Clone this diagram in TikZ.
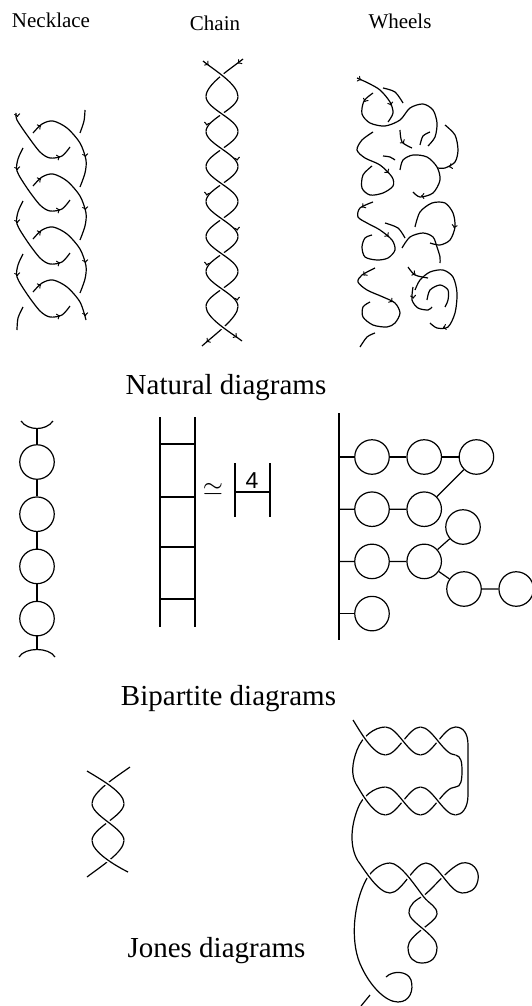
\documentclass[tikz,border=0pt]{standalone}
\usepackage{fontspec}
\setmainfont{Liberation Serif}
\newfontfamily\sansdigits{Liberation Sans}
\usetikzlibrary{positioning, decorations.markings}

\begin{document}
\begin{tikzpicture}[
    x=1pt, y=-1pt, line width=1.2pt,
    node distance=16.5pt,
    head/.style={anchor=base, font=\fontsize{21}{25}\selectfont},
    caption/.style={anchor=base, font=\fontsize{29}{35}\selectfont},
    bead/.style={circle, draw, minimum size=34.5pt, inner sep=0pt},
    over/.style={preaction={draw=white, line width=4.5pt}},
    tick/.style={postaction={decorate, decoration={markings, mark=at position 0.5 with {\arrow{>}}}}}
    ]
    \useasboundingbox (0,0) rectangle (531,1006);

    % Column titles
    \node (necklace) [head] at (51,28) {Necklace};
    \node (chain) [head] at (215,31) {Chain};
    \node (wheels) [head] at (400,29) {Wheels};

    % Natural necklace
    \draw plot[smooth] coordinates {(85,110) (84,121) (80,133)};
    \draw plot[smooth] coordinates {(16,113) (17,120) (27,135) (40,152) (50,158) (62,156) (70,147)};
    \foreach \i [evaluate=\i as \dy using 53*\i] in {1,2,3}
        \draw plot[smooth] coordinates {(23,95+\dy) (18,106+\dy) (17,118+\dy) (27,135+\dy) (40,152+\dy) (50,158+\dy) (62,156+\dy) (70,147+\dy)};
    \foreach \i [evaluate=\i as \dy using 53*\i] in {0,1,2}
        \draw plot[smooth] coordinates {(33,133+\dy) (42,124+\dy) (53,121+\dy) (67,128+\dy) (80,143+\dy) (86,160+\dy) (85,173+\dy) (80,187+\dy)};
    \draw plot[smooth] coordinates {(33,292) (42,283) (53,280) (67,287) (80,302) (86,320)};
    \draw plot[smooth] coordinates {(23,307) (18,318) (17,330)};
    \foreach \i [evaluate=\i as \dy using 53*\i] in {0,1,2,3} {
        \path[tick] (17,113+\dy) -- (18,121+\dy);
        \path[tick] (56,158+\dy) -- (64,155+\dy);
        \path[tick] (37,128+\dy) -- (45,123+\dy);
        \path[tick] (85,153+\dy) -- (86,161+\dy);
    }

    % Natural chain
    \draw (243,59) .. controls (232,68) and (206,84) .. (206,96.5);
    \foreach \k [evaluate=\k as \yc using 79+35*\k] in {1,...,6}
        \draw (238,\yc-17.5) .. controls (238,\yc-5) and (206,\yc+5) .. (206,\yc+17.5);
    \draw (238,306.5) .. controls (238,318) and (214,335) .. (202,346);
    \draw[over] (203,61) .. controls (214,70) and (238,84) .. (238,96.5);
    \foreach \k [evaluate=\k as \yc using 79+35*\k] in {1,...,6}
        \draw[over] (206,\yc-17.5) .. controls (206,\yc-5) and (238,\yc+5) .. (238,\yc+17.5);
    \draw[over] (206,306.5) .. controls (206,318) and (230,332) .. (242,341);
    \path[tick] (205,62) -- (212,68);
    \path[tick] (241,61) -- (235,66);
    \path[tick] (234,335) -- (240,339);
    \path[tick] (209,340) -- (204,344);
    \foreach \k [evaluate=\k as \yc using 79+35*\k] in {1,3,5} {
        \path[tick] (207,\yc+9) -- (206,\yc+14);
        \path[tick] (237,\yc+44) -- (238,\yc+49);
    }

    % Natural wheels
    \draw plot[smooth] coordinates {(357,78) (368,83) (380,90) (390,102) (393,113) (388,122)};
    \draw plot[smooth] coordinates {(373,93) (364,101) (362,114) (370,123) (385,126) (400,120) (410,108) (423,104) (433,110) (437,123) (435,137) (428,146)};
    \draw plot[smooth] coordinates {(383,88) (395,92) (403,103)};
    \draw plot[smooth] coordinates {(400,130) (402,142) (412,148)};
    \draw plot[smooth] coordinates {(373,132) (362,140) (357,150) (365,158) (380,165) (392,177) (393,186) (383,193) (370,195) (362,188) (363,175) (372,166)};
    \draw plot[smooth] coordinates {(383,156) (390,157) (395,160)};
    \draw plot[smooth] coordinates {(400,170) (403,160) (413,155) (427,157) (437,167) (440,180) (433,193) (420,197) (413,192)};
    \draw plot[smooth] coordinates {(445,125) (455,135) (458,150) (455,162) (445,168) (438,168)};
    \draw plot[smooth] coordinates {(420,145) (423,136) (430,132)};
    \draw plot[smooth] coordinates {(373,202) (360,208) (358,217) (367,223) (380,230) (392,240) (395,250) (388,258) (377,260) (365,257) (362,247) (365,238) (372,235)};
    \draw plot[smooth] coordinates {(385,223) (398,228) (405,238)};
    \draw plot[smooth] coordinates {(415,227) (420,212) (432,203) (445,203) (453,213) (455,227) (450,240) (440,245) (430,243)};
    \draw plot[smooth] coordinates {(402,248) (410,237) (423,233) (433,237) (437,247) (440,257) (440,263)};
    \draw plot[smooth] coordinates {(408,267) (415,275) (428,278)};
    \draw plot[smooth] coordinates {(375,268) (362,275) (358,282) (367,290) (383,297) (395,303) (400,313) (395,323) (387,327) (373,325) (363,317) (363,307) (370,302)};
    \draw plot[smooth] coordinates {(415,290) (420,280) (430,272) (443,270) (453,277) (457,293) (455,313) (448,327) (437,328) (430,323)};
    \draw plot[smooth] coordinates {(427,300) (430,290) (440,285) (448,290) (448,300) (445,307)};
    \draw plot[smooth] coordinates {(413,287) (412,300) (418,308) (428,310) (432,307)};
    \draw plot[smooth] coordinates {(360,347) (367,337) (375,333)};
    \path[tick] (357,78) -- (365,82);
    \path[tick] (390,102) -- (392,109);
    \path[tick] (366,99) -- (363,105);
    \path[tick] (402,141) -- (406,146);
    \path[tick] (386,170) -- (391,176);
    \path[tick] (424,196) -- (418,196);
    \path[tick] (452,166) -- (446,168);
    \path[tick] (364,206) -- (360,209);
    \path[tick] (386,234) -- (391,239);
    \path[tick] (455,224) -- (453,232);
    \path[tick] (413,273) -- (418,276);
    \path[tick] (366,273) -- (361,278);
    \path[tick] (390,300) -- (395,304);
    \path[tick] (446,327) -- (440,328);
    \path[tick] (413,295) -- (414,302);

    \node (natural) [caption] at (226,394) {Natural diagrams};

    % Bipartite necklace
    \node (n1) [bead] at (37,462) {};
    \node (n2) [bead, below=of n1] {};
    \node (n3) [bead, below=of n2] {};
    \node (n4) [bead, below=of n3] {};
    \coordinate (ncup) at (37,429);
    \coordinate (ncap) at (37,649);
    \draw (21,421) .. controls (28,431) and (46,431) .. (53,421);
    \draw (ncup) -- (n1) (n1) -- (n2) (n2) -- (n3) (n3) -- (n4) (n4) -- (ncap);
    \draw (19,657) .. controls (25,647) and (49,647) .. (55,657);

    % Bipartite chain
    \draw (160,417) -- (160,627) (195,417) -- (195,627);
    \foreach \r in {444,497,547,599}
        \draw (160,\r) -- (195,\r);
    \node (simeq) at (213,489) {\scalebox{2.6}{$\simeq$}};
    \node (four) [anchor=base, font=\sansdigits\fontsize{23}{27}\selectfont] at (252,488) {4};
    \draw (235,463) -- (235,517) (270,463) -- (270,517) (235,492) -- (270,492);

    % Bipartite wheels
    \coordinate (spinetop) at (339,413);
    \coordinate (spinebot) at (339,640);
    \draw (spinetop) -- (spinebot);
    \node (w11) [bead] at (372,457) {};
    \node (w12) [bead, right=of w11] {};
    \node (w13) [bead, right=of w12] {};
    \node (w21) [bead, below=of w11] {};
    \node (w22) [bead, right=of w21] {};
    \node (w31) [bead, below=of w21] {};
    \node (w32) [bead, right=of w31] {};
    \node (w33) [bead] at (463,527) {};
    \node (w34) [bead] at (464,589) {};
    \node (w35) [bead, right=of w34] {};
    \node (w41) [bead, below=of w31] {};
    \draw (w11 -| spinetop) -- (w11) -- (w12) -- (w13);
    \draw (w21 -| spinetop) -- (w21) -- (w22) -- (w13);
    \draw (w31 -| spinetop) -- (w31) -- (w32) -- (w33);
    \draw (w32) -- (w34) -- (w35);
    \draw (w41 -| spinetop) -- (w41);

    \node (bipartite) [caption] at (228.5,705) {Bipartite diagrams};

    % Jones braid
    \draw (130,767) .. controls (116,777) and (92,792) .. (92,803.5);
    \draw (124,803.5) .. controls (124,816) and (92,828) .. (92,840.5);
    \draw (124,840.5) .. controls (124,852) and (100,867) .. (87,877);
    \draw[over] (87,771) .. controls (100,779) and (124,792) .. (124,803.5);
    \draw[over] (92,803.5) .. controls (92,816) and (124,828) .. (124,840.5);
    \draw[over] (92,840.5) .. controls (92,852) and (116,866) .. (128,872);

    % Jones knot, under strands
    \draw (385.5,727) .. controls (374,727) and (362,737) .. (357,750) .. controls (352,763) and (351,775) .. (356,784);
    \draw (385.5,755) .. controls (397.5,755) and (408.5,727) .. (420.5,727);
    \draw (420.5,755) .. controls (432.5,755) and (443.5,727) .. (455.5,727) .. controls (463,727) and (468,733) .. (468,745) -- (468,795) .. controls (468,808) and (462,815) .. (455.5,815);
    \draw (455.5,755) .. controls (461,756) and (462,762) .. (462,771) .. controls (462,780) and (461,787) .. (455.5,787) .. controls (443.5,787) and (432.5,815) .. (420.5,815);
    \draw (385.5,815) .. controls (397.5,815) and (408.5,787) .. (420.5,787);
    \draw (385.5,787) .. controls (374,787) and (362,797) .. (358,808) .. controls (350,828) and (350,848) .. (358,861);
    \draw (390,863) .. controls (380,863) and (369,872) .. (364,884) .. controls (353,908) and (350,945) .. (362,968) .. controls (370,985) and (385,1002) .. (398,1002) .. controls (410,1002) and (414,990) .. (411,980) .. controls (408,971) and (393,970) .. (386,977);
    \draw (370,995) -- (361,1006);
    \draw (390,893) .. controls (402,893) and (414,863) .. (426,863);
    \draw (409,913) .. controls (409,904) and (416,900) .. (423,896) .. controls (432,890) and (450,866) .. (462,863);
    \draw (462,863) .. controls (472,861) and (480,870) .. (478,880) .. controls (476,891) and (468,893) .. (462,893);
    \draw (437,914) .. controls (437,922) and (408,935) .. (408,947) .. controls (408,958) and (414,963) .. (422,963) .. controls (431,963) and (437,958) .. (437,947);

    % Jones knot, over strands
    \draw[over] (353,720) .. controls (360,731) and (373,755) .. (385.5,755);
    \draw[over] (385.5,727) .. controls (397.5,727) and (408.5,755) .. (420.5,755);
    \draw[over] (420.5,727) .. controls (432.5,727) and (443.5,755) .. (455.5,755);
    \draw[over] (356,784) .. controls (361,792) and (373,815) .. (385.5,815);
    \draw[over] (385.5,787) .. controls (397.5,787) and (408.5,815) .. (420.5,815);
    \draw[over] (420.5,787) .. controls (432.5,787) and (443.5,815) .. (455.5,815);
    \draw[over] (358,861) .. controls (364,869) and (378,893) .. (390,893);
    \draw[over] (390,863) .. controls (400,863) and (414,884) .. (423,896) .. controls (430,905) and (437,906) .. (437,914);
    \draw[over] (426,863) .. controls (438,863) and (450,893) .. (462,893);
    \draw[over] (409,913) .. controls (409,922) and (437,935) .. (437,947);

    \node (jones) [caption] at (216.5,957) {Jones diagrams};
\end{tikzpicture}
\end{document}
